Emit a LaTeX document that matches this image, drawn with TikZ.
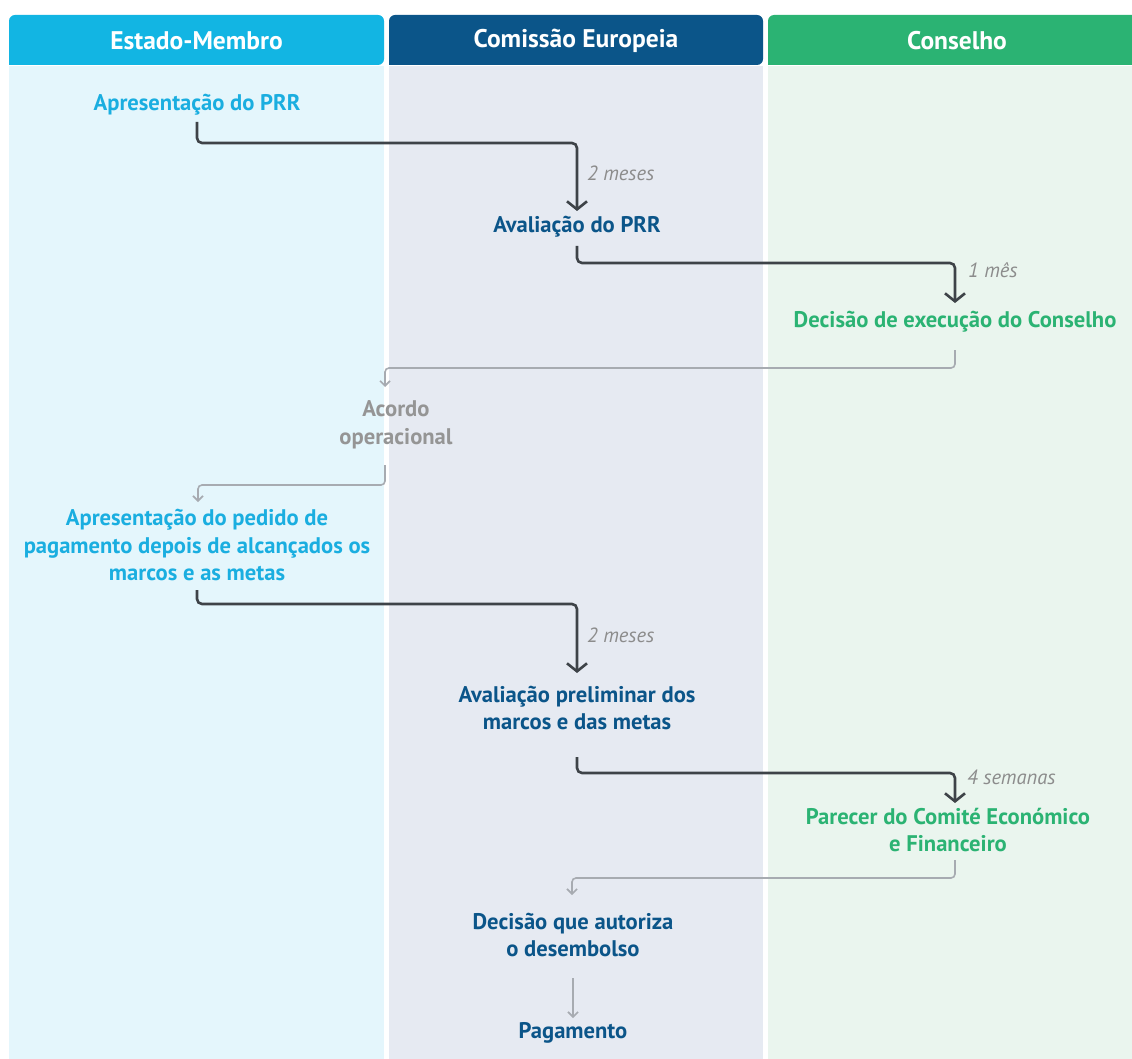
\documentclass[tikz,border=0pt]{standalone}
\usepackage{fontspec}
\setmainfont{PT Sans}
\usetikzlibrary{arrows.meta}
\definecolor{cyanH}{HTML}{12B5E3}
\definecolor{blueH}{HTML}{0B5589}
\definecolor{greenH}{HTML}{2BB373}
\definecolor{cyanB}{HTML}{E4F6FC}
\definecolor{blueB}{HTML}{E6EAF2}
\definecolor{greenB}{HTML}{EAF5EE}
\definecolor{cyanT}{HTML}{1AAEE0}
\definecolor{blueT}{HTML}{0B5589}
\definecolor{greenT}{HTML}{2BB373}
\definecolor{grayT}{HTML}{959595}
\definecolor{darkL}{HTML}{3E4348}
\definecolor{grayL}{HTML}{A7ABB1}
\definecolor{durT}{HTML}{8C8C8C}
\tikzset{
  x=1pt,y=-1pt,
  head/.style={text=white,font=\bfseries\fontsize{25.5}{28}\selectfont},
  lbl/.style={align=center,inner sep=1pt,font=\bfseries\fontsize{22.6}{27.5}\selectfont},
  dur/.style={text=durT,anchor=west,inner sep=0pt,font=\itshape\fontsize{20.5}{22}\selectfont},
  darkarrow/.style={draw=darkL,line width=2.6pt,rounded corners=5pt,-{Straight Barb[length=8pt,width=20pt,line width=2.6pt]}},
  grayarrow/.style={draw=grayL,line width=1.6pt,rounded corners=4pt,-{Straight Barb[length=5pt,width=10pt,line width=1.6pt]}}
}
\begin{document}
\begin{tikzpicture}
\useasboundingbox[fill=white] (0,0) rectangle (1132,1059);
% bodies
\fill[cyanB] (9,66) rectangle (384,1059);
\fill[blueB] (389,66) rectangle (763,1059);
\fill[greenB] (768,66) rectangle (1132,1059);
% headers
\fill[cyanH,rounded corners=6pt] (9,65) -- (9,15) -- (384,15) -- (384,65) [sharp corners] -- cycle;
\fill[blueH,rounded corners=6pt] (389,65) -- (389,15) -- (763,15) -- (763,65) [sharp corners] -- cycle;
\fill[greenH,rounded corners=6pt] (768,65) -- (768,15) -- (1140,15) -- (1140,65) [sharp corners] -- cycle;
\node[head] (h1) at (196.5,41) {Estado-Membro};
\node[head] (h2) at (576,41) {Comissão Europeia};
\node[head] (h3) at (957,41) {Conselho};
% nodes
\node[lbl,text=cyanT] (n1) at (197,105) {Apresentação do PRR};
\node[lbl,text=blueT] (n2) at (577,227) {Avaliação do PRR};
\node[lbl,text=greenT] (n3) at (955,322) {Decisão de execução do Conselho};
\node[lbl,text=grayT] (n4) at (396,425) {Acordo\\operacional};
\node[lbl,text=cyanT] (n5) at (197,545) {Apresentação do pedido de\\pagamento depois de alcançados os\\marcos e as metas};
\node[lbl,text=blueT] (n6) at (577,708) {Avaliação preliminar dos\\marcos e das metas};
\node[lbl,text=greenT] (n7) at (948,830) {Parecer do Comité Económico\\e Financeiro};
\node[lbl,text=blueT] (n8) at (573,935) {Decisão que autoriza\\o desembolso};
\node[lbl,text=blueT] (n9) at (573,1033) {Pagamento};
% connectors
\draw[darkarrow] (197,122) -- (197,143) -- (577,143) -- (577,211);
\node[dur] (d1) at (587,173) {2 meses};
\draw[darkarrow] (577,246) -- (577,263) -- (955,263) -- (955,303);
\node[dur] (d2) at (968,270) {1 mês};
\draw[grayarrow] (955,350) -- (955,368) -- (385,368) -- (385,387);
\draw[grayarrow] (385,465) -- (385,485) -- (198,485) -- (198,502);
\draw[darkarrow] (197,590) -- (197,604) -- (577,604) -- (577,673);
\node[dur] (d3) at (587,635) {2 meses};
\draw[darkarrow] (577,757) -- (577,773) -- (955,773) -- (955,803);
\node[dur] (d4) at (967,777) {4 semanas};
\draw[grayarrow] (955,860) -- (955,878) -- (572,878) -- (572,895);
\draw[grayarrow] (573,978) -- (573,1018);
\end{tikzpicture}
\end{document}
